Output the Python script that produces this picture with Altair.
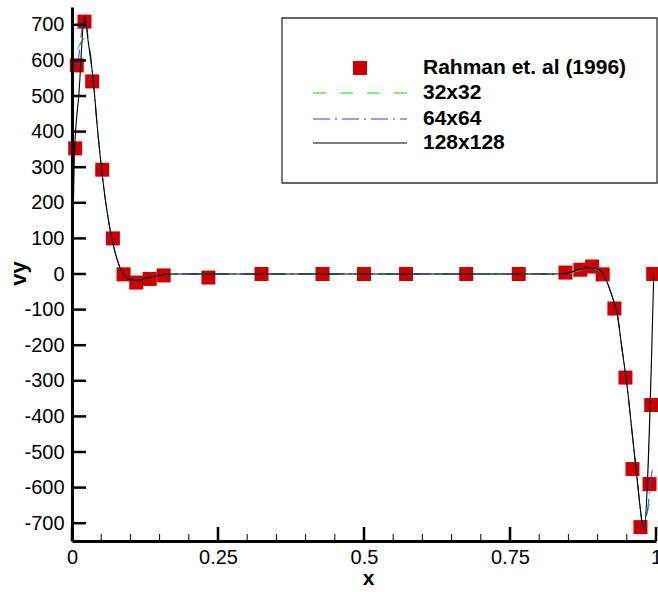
import altair as alt
import pandas as pd

# ---- Rahman et al. (1996) reference values ----
ref_x = [0.0055, 0.0082, 0.0214, 0.0346, 0.0518, 0.070, 0.0883, 0.110, 0.133, 0.157,
         0.2336, 0.3245, 0.429, 0.500, 0.572, 0.675, 0.765, 0.845, 0.8705, 0.8906,
         0.9087, 0.9288, 0.9477, 0.9597, 0.9734, 0.9889, 0.9918, 0.9952]
ref_vy = [353, 586, 709, 541, 293, 100, -1, -24, -14, -4,
          -10, 0, 0, 0, 0, 0, 0, 4, 12, 21,
          -1, -97, -291, -548, -711, -590, -368, 0]

# ---- 128x128 grid ----
x128 = [0.0, 0.004, 0.012, 0.0214, 0.028, 0.0357, 0.0443, 0.0528, 0.0643, 0.0758,
        0.0871, 0.1015, 0.1101, 0.127, 0.150, 0.173, 0.25, 0.4, 0.6, 0.8,
        0.8305, 0.848, 0.8705, 0.8906, 0.9019, 0.9134, 0.9249, 0.9334, 0.942, 0.9506,
        0.9592, 0.9678, 0.9734, 0.979, 0.9962]
v128 = [0, 331, 510, 723, 650, 555, 396, 264, 133, 49,
        2, -16, -18, -12, -3, 0, 0, 0, 0, 0,
        0, 2, 14, 18, 12, -12, -63, -110, -213, -316,
        -447, -578, -663, -719, 0]

# ---- 64x64 grid ----
x64 = [0.010, 0.0232, 0.028, 0.0357, 0.0443, 0.0528, 0.0643, 0.0758, 0.0871, 0.1015,
       0.1101, 0.127, 0.150, 0.173, 0.25, 0.4, 0.6, 0.8, 0.8305, 0.848,
       0.8705, 0.8906, 0.9019, 0.9134, 0.9249, 0.9334, 0.942, 0.9506, 0.9592, 0.9678,
       0.9734, 0.977, 0.9935]
v64 = [583, 728, 655, 555, 396, 264, 133, 49, 2, -16,
       -18, -12, -3, 0, 0, 0, 0, 0, 0, 2,
       13, 17, 11, -12, -63, -110, -213, -316, -447, -578,
       -663, -715, -550]

# ---- 32x32 grid ----
x32 = [0.010, 0.023, 0.030, 0.0357, 0.0443, 0.0528, 0.0643, 0.0758, 0.0871, 0.1015,
       0.1101, 0.127, 0.150, 0.173, 0.25, 0.4, 0.6, 0.8, 0.8305, 0.848,
       0.8705, 0.8906, 0.9019, 0.9134, 0.9249, 0.9334, 0.942, 0.9506, 0.9592, 0.9678,
       0.9734, 0.976, 0.9906]
v32 = [632, 662, 640, 555, 396, 264, 133, 49, 2, -16,
       -18, -12, -3, 0, 0, 0, 0, 0, 0, 1,
       10, 14, 9, -12, -63, -110, -213, -316, -447, -578,
       -660, -700, -635]

# axis ticks
x_major = [0, 0.25, 0.5, 0.75, 1]
x_minor = [0.05, 0.1, 0.15, 0.2, 0.3, 0.35, 0.4, 0.45, 0.55, 0.6, 0.65, 0.7,
           0.8, 0.85, 0.9, 0.95]
y_major = [-700, -600, -500, -400, -300, -200, -100, 0, 100, 200, 300, 400, 500, 600, 700]

series_names = ["Rahman et. al (1996)", "32x32", "64x64", "128x128"]

RED = "#cc0000"
GREEN = "#00dd00"
BLUE = "#3333ff"
BLACK = "#000000"
FONT = "Liberation Sans"
W, H = 584, 534

xs = alt.Scale(domain=[0, 1], nice=False, zero=False)
ys = alt.Scale(domain=[-750, 750], nice=False, zero=False)

x_axis = alt.Axis(values=x_major, labelExpr="'' + datum.value", ticks=False, tickSize=0,
                  grid=False, domainWidth=3, domainColor=BLACK, labelFont=FONT,
                  labelFontSize=20, labelColor=BLACK, labelPadding=6, labelFlush=False,
                  labelOverlap=False, titleFont=FONT, titleFontSize=21,
                  titleFontWeight="bold", titleColor=BLACK, titleX=296, titleY=37,
                  titleAlign="center", titleBaseline="middle", zindex=1)
y_axis = alt.Axis(values=y_major, ticks=False, tickSize=0, grid=False,
                  labelExpr="datum.value < 0 ? '-' + abs(datum.value) : '' + datum.value",
                  domainWidth=3, domainColor=BLACK, labelFont=FONT, labelFontSize=20,
                  labelColor=BLACK, labelPadding=8, labelFlush=False, labelOverlap=False,
                  titleFont=FONT, titleFontSize=22, titleFontWeight="bold", titleColor=BLACK,
                  titleAngle=270, titleX=-54, titleY=266, titleAlign="center",
                  titleBaseline="middle", zindex=1)


def X(field="x"):
    return alt.X(f"{field}:Q", scale=xs, axis=x_axis, title="x")


def Y(field="vy"):
    return alt.Y(f"{field}:Q", scale=ys, axis=y_axis, title="vy")


ref_df = pd.DataFrame({"x": ref_x, "vy": ref_vy})
df128 = pd.DataFrame({"x": x128, "vy": v128})
df64 = pd.DataFrame({"x": x64, "vy": v64})
df32 = pd.DataFrame({"x": x32, "vy": v32})

squares = alt.Chart(ref_df).mark_square(size=196, color=RED, opacity=1).encode(x=X(), y=Y())


def curve(df, color, dash, width):
    kw = dict(color=color, strokeWidth=width, interpolate="monotone")
    if dash:
        kw["strokeDash"] = dash
    return alt.Chart(df).mark_line(**kw).encode(x=X(), y=Y())


DASH32 = [13, 14]
DASH64 = [17, 5, 2, 5]

line32 = curve(df32, GREEN, DASH32, 1)
line64 = curve(df64, BLUE, DASH64, 1)
line128 = curve(df128, BLACK, None, 1.1)

# inward-pointing tick marks
xt_major = alt.Chart(pd.DataFrame({"x": x_major})).mark_rule(color=BLACK, strokeWidth=2.5).encode(
    x=X(), y=alt.value(H), y2=alt.value(H - 14))
xt_minor = alt.Chart(pd.DataFrame({"x": x_minor})).mark_rule(color=BLACK, strokeWidth=1).encode(
    x=X(), y=alt.value(H), y2=alt.value(H - 7))
yt_major = alt.Chart(pd.DataFrame({"vy": y_major})).mark_rule(color=BLACK, strokeWidth=2.5).encode(
    y=Y(), x=alt.value(0), x2=alt.value(14))

# legend
one = lambda name: pd.DataFrame({"label": [name]})
leg_box = alt.Chart(one("box")).mark_rect(fill="white", stroke="#333333", strokeWidth=1.3).encode(
    x=alt.value(210), x2=alt.value(585), y=alt.value(11), y2=alt.value(176))
leg_sq = alt.Chart(one(series_names[0])).mark_square(size=196, color=RED, opacity=1).encode(
    x=alt.value(288), y=alt.value(61))
leg_l32 = alt.Chart(one(series_names[1])).mark_rule(color=GREEN, strokeWidth=1, strokeDash=DASH32).encode(
    x=alt.value(241), x2=alt.value(335), y=alt.value(86))
leg_l64 = alt.Chart(one(series_names[2])).mark_rule(color=BLUE, strokeWidth=1, strokeDash=DASH64).encode(
    x=alt.value(241), x2=alt.value(335), y=alt.value(112))
leg_l128 = alt.Chart(one(series_names[3])).mark_rule(color=BLACK, strokeWidth=1).encode(
    x=alt.value(241), x2=alt.value(335), y=alt.value(136))

leg_texts = []
for name, yy in zip(series_names, [61, 86, 112, 136]):
    leg_texts.append(
        alt.Chart(one(name)).mark_text(align="left", baseline="middle", font=FONT,
                                        fontSize=21, fontWeight="bold", color=BLACK).encode(
            x=alt.value(351), y=alt.value(yy), text="label:N"))

chart = alt.layer(
    squares, line32, line64, line128, xt_major, xt_minor, yt_major,
    leg_box, leg_sq, leg_l32, leg_l64, leg_l128, *leg_texts,
).properties(
    width=W, height=H,
    autosize=alt.AutoSizeParams(type="none"),
    padding={"left": 72, "top": 7, "right": 2, "bottom": 51},
    background="white",
).configure_view(stroke=None).configure_axis(labelOverlap=False)

chart.save("out.html", embed_options={"renderer": "svg", "actions": False})
